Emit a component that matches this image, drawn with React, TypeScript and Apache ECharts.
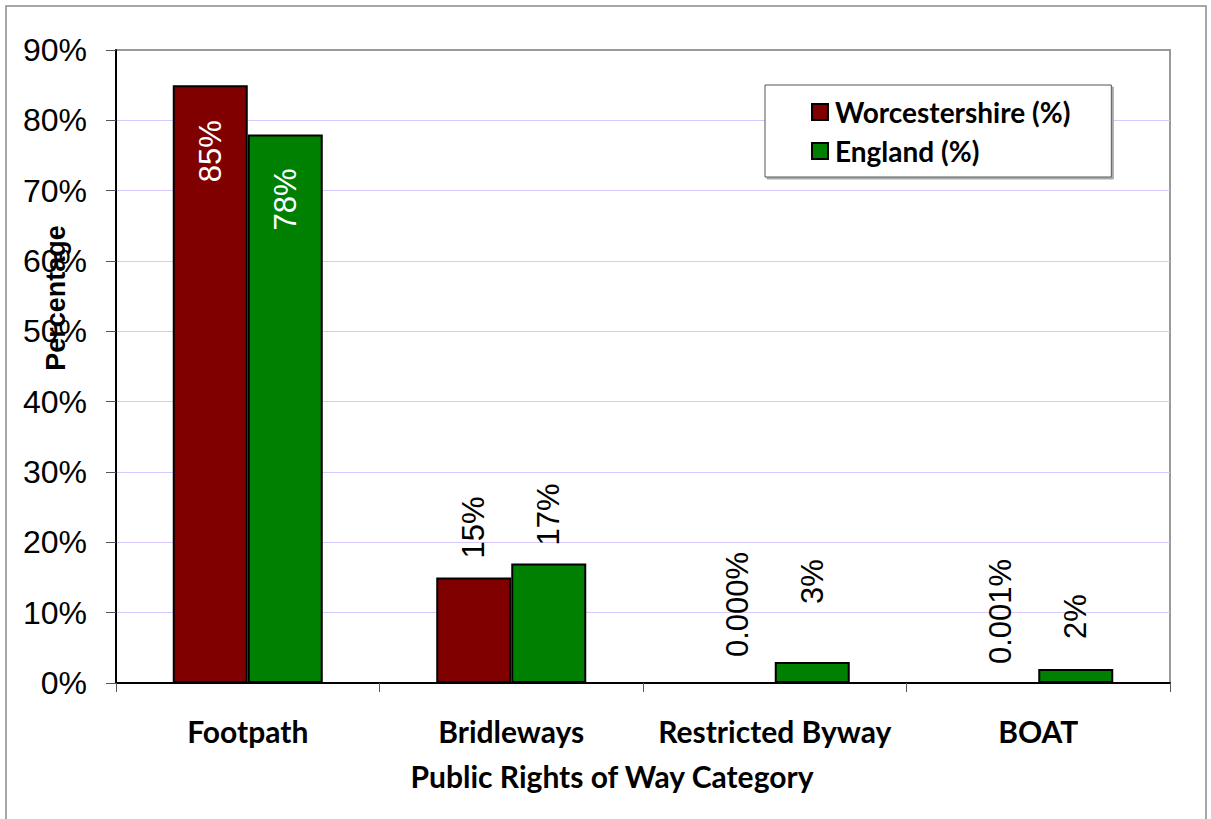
import React, { useEffect, useRef } from "react";
import * as echarts from "echarts";

const categories = ["Footpath", "Bridleways", "Restricted Byway", "BOAT"];
const worcestershire = [85, 15, 0, 0.001];
const england = [78, 17, 3, 2];
const seriesNames = ["Worcestershire (%)", "England (%)"];
const yMin = 0;
const yMax = 90;
const yInterval = 10;

// label styling (distance of each rotated label from its bar top)
const worcsLabelGap = [35, 19, 25, 18];
const englandLabelGap = [34, 18, 58, 30];

const fmt = (v: number) => (v >= 1 ? `${v}%` : `${v.toFixed(3)}%`);

const buildData = (vals: number[], gaps: number[]) =>
  vals.map((v, i) => ({
    value: v,
    label:
      v >= 50
        ? { position: "insideTop", distance: gaps[i], color: "#ffffff", align: "right", verticalAlign: "middle" }
        : { position: "top", distance: gaps[i], color: "#000000", align: "left", verticalAlign: "middle" },
  }));

export default function App() {
  const ref = useRef<HTMLDivElement>(null);
  useEffect(() => {
    if (!ref.current) return;
    const chart = echarts.init(ref.current, undefined, { renderer: "svg" });
    const labelCommon = {
      show: true,
      rotate: 90,
      fontFamily: "Liberation Sans",
      fontSize: 31,
      formatter: (p: any) => fmt(p.value),
    };
    chart.setOption({
      animation: false,
      backgroundColor: "#ffffff",
      grid: {
        left: 116,
        top: 50,
        right: 41,
        bottom: 136,
        show: true,
        borderColor: "#999999",
        borderWidth: 2,
        backgroundColor: "transparent",
      },
      legend: {
        orient: "vertical",
        left: 765,
        top: 85,
        itemWidth: 16,
        itemHeight: 16,
        itemGap: 11,
        padding: [13, 41, 12, 46],
        borderColor: "#555555",
        borderWidth: 1,
        backgroundColor: "#ffffff",
        shadowColor: "#aaaaaa",
        shadowOffsetX: 2,
        shadowOffsetY: 2,
        shadowBlur: 0,
        icon: "rect",
        textStyle: { fontFamily: "Lato", fontWeight: "bold", fontSize: 28, color: "#000000", padding: [0, 0, 0, 2] },
        data: seriesNames,
      },
      xAxis: {
        type: "category",
        data: categories,
        axisLine: { show: true, lineStyle: { color: "#000000", width: 2 } },
        axisTick: { show: true, length: 9, lineStyle: { color: "#555555", width: 1 } },
        axisLabel: {
          fontFamily: "Lato",
          fontWeight: "bold",
          fontSize: 30,
          color: "#000000",
          margin: 33,
          interval: 0,
        },
        splitLine: { show: false },
      },
      yAxis: {
        type: "value",
        min: yMin,
        max: yMax,
        interval: yInterval,
        axisLine: { show: true, lineStyle: { color: "#000000", width: 2 } },
        axisTick: { show: true, length: 10, lineStyle: { color: "#555555", width: 1 } },
        axisLabel: {
          formatter: "{value}%",
          fontFamily: "Liberation Sans",
          fontSize: 32,
          color: "#000000",
          margin: 29,
        },
        splitLine: { show: true, showMaxLine: false, showMinLine: false, lineStyle: { color: "#d9c8fb", width: 1 } },
      },
      series: [
        {
          name: seriesNames[0],
          type: "bar",
          barWidth: 75,
          barGap: "0%",
          data: buildData(worcestershire, worcsLabelGap),
          itemStyle: { color: "#800000", borderColor: "#000000", borderWidth: 2 },
          label: labelCommon,
        },
        {
          name: seriesNames[1],
          type: "bar",
          barWidth: 75,
          barGap: "0%",
          data: buildData(england, englandLabelGap),
          itemStyle: { color: "#008000", borderColor: "#000000", borderWidth: 2 },
          label: labelCommon,
        },
      ],
      graphic: [
        {
          type: "rect",
          shape: { x: 6, y: 6, width: 1200, height: 830 },
          style: { fill: "none", stroke: "#8a8a8a", lineWidth: 1.5 },
          silent: true,
          z: -10,
        },
        {
          type: "text",
          x: 56,
          y: 298,
          rotation: Math.PI / 2,
          style: {
            text: "Percentage",
            font: "bold 27px 'Liberation Sans'",
            fill: "#000000",
            textAlign: "center",
            textVerticalAlign: "middle",
          },
          z: 10,
        },
        {
          type: "text",
          x: 612,
          y: 776,
          style: {
            text: "Public Rights of Way Category",
            font: "bold 30px Lato",
            fill: "#000000",
            textAlign: "center",
            textVerticalAlign: "middle",
          },
          z: 10,
        },
      ],
    });
    return () => chart.dispose();
  }, []);
  return (
    <div
      ref={ref}
      style={{ position: "absolute", left: 0, top: 0, width: 1211, height: 819 }}
    />
  );
}
